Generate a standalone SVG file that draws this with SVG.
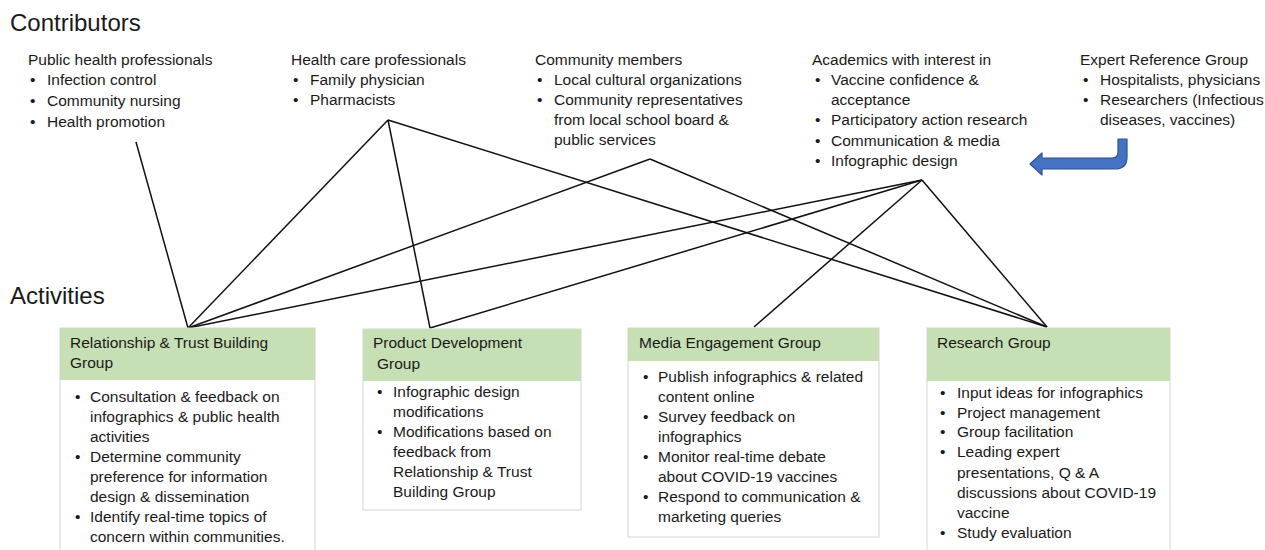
<svg xmlns="http://www.w3.org/2000/svg" width="1265" height="550" viewBox="0 0 1265 550">
  <style>
    text { font-family: "Liberation Sans", Arial, sans-serif; fill: #1a1a1a; }
    .title { font-size: 24px; }
    .t { font-size: 15.5px; }
    .hdr { fill: #C6DFB5; }
    .body { fill: #ffffff; stroke: #d4d4d4; stroke-width: 1; }
    .link { stroke: #111; stroke-width: 1.5; fill: none; }
  </style>

  <rect width="1265" height="550" fill="#ffffff"/>

  <text class="title" x="10" y="31">Contributors</text>
  <text class="title" x="10" y="304">Activities</text>

  <!-- connectors: contributor groups to activity groups -->
  <g id="connectors">
    <line class="link" x1="136" y1="142" x2="188" y2="328"/>
    <line class="link" x1="388" y1="120" x2="188" y2="328"/>
    <line class="link" x1="388" y1="120" x2="430" y2="328"/>
    <line class="link" x1="388" y1="120" x2="1047" y2="327"/>
    <line class="link" x1="650" y1="159" x2="188" y2="328"/>
    <line class="link" x1="650" y1="159" x2="1047" y2="327"/>
    <line class="link" x1="922" y1="180" x2="188" y2="328"/>
    <line class="link" x1="922" y1="180" x2="430" y2="328"/>
    <line class="link" x1="922" y1="180" x2="754" y2="327"/>
    <line class="link" x1="922" y1="180" x2="1047" y2="327"/>
  </g>

  <!-- contributors -->
  <g id="public-health">
    <text class="t" x="28" y="65">Public health professionals</text>
    <text class="t" x="30" y="85">•</text><text class="t" x="47" y="85">Infection control</text>
    <text class="t" x="30" y="106">•</text><text class="t" x="47" y="106">Community nursing</text>
    <text class="t" x="30" y="127">•</text><text class="t" x="47" y="127">Health promotion</text>
  </g>

  <g id="health-care">
    <text class="t" x="291" y="65">Health care professionals</text>
    <text class="t" x="293" y="85">•</text><text class="t" x="310" y="85">Family physician</text>
    <text class="t" x="293" y="105">•</text><text class="t" x="310" y="105">Pharmacists</text>
  </g>

  <g id="community">
    <text class="t" x="535" y="65">Community members</text>
    <text class="t" x="537" y="85">•</text><text class="t" x="554" y="85">Local cultural organizations</text>
    <text class="t" x="537" y="105">•</text><text class="t" x="554" y="105">Community representatives</text>
    <text class="t" x="554" y="125">from local school board &amp;</text>
    <text class="t" x="554" y="145">public services</text>
  </g>

  <g id="academics">
    <text class="t" x="812" y="65">Academics with interest in</text>
    <text class="t" x="815" y="85">•</text><text class="t" x="831" y="85">Vaccine confidence &amp;</text>
    <text class="t" x="831" y="105">acceptance</text>
    <text class="t" x="815" y="125">•</text><text class="t" x="831" y="125">Participatory action research</text>
    <text class="t" x="815" y="146">•</text><text class="t" x="831" y="146">Communication &amp; media</text>
    <text class="t" x="815" y="166">•</text><text class="t" x="831" y="166">Infographic design</text>
  </g>

  <g id="expert-reference">
    <text class="t" x="1080" y="65">Expert Reference Group</text>
    <text class="t" x="1083" y="85">•</text><text class="t" x="1100" y="85">Hospitalists, physicians</text>
    <text class="t" x="1083" y="105">•</text><text class="t" x="1100" y="105">Researchers (Infectious</text>
    <text class="t" x="1100" y="125">diseases, vaccines)</text>
    <!-- bent arrow feeding the academics group -->
    <path d="M1118,139 L1127,139 L1127,157 Q1127,169 1115,169 L1042,169 L1042,175 L1030,164 L1042,153 L1042,158 L1112,158 Q1118,158 1118,152 Z"
          fill="#4472C4" stroke="#2F528F" stroke-width="1.2" stroke-linejoin="round"/>
  </g>

  <!-- activities -->
  <g id="relationship-trust">
    <rect class="body" x="60" y="328" width="255" height="240"/>
    <rect class="hdr" x="60" y="328" width="255" height="52"/>
    <text class="t" x="70" y="348">Relationship &amp; Trust Building</text>
    <text class="t" x="70" y="368">Group</text>
    <text class="t" x="75" y="402">•</text><text class="t" x="90" y="402">Consultation &amp; feedback on</text>
    <text class="t" x="90" y="422">infographics &amp; public health</text>
    <text class="t" x="90" y="442">activities</text>
    <text class="t" x="75" y="462">•</text><text class="t" x="90" y="462">Determine community</text>
    <text class="t" x="90" y="482">preference for information</text>
    <text class="t" x="90" y="502">design &amp; dissemination</text>
    <text class="t" x="75" y="522">•</text><text class="t" x="90" y="522">Identify real-time topics of</text>
    <text class="t" x="90" y="542">concern within communities.</text>
  </g>

  <g id="product-development">
    <rect class="body" x="363" y="329" width="218" height="181"/>
    <rect class="hdr" x="363" y="329" width="218" height="52"/>
    <text class="t" x="373" y="348">Product Development</text>
    <text class="t" x="377" y="369">Group</text>
    <text class="t" x="377" y="397">•</text><text class="t" x="393" y="397">Infographic design</text>
    <text class="t" x="393" y="417">modifications</text>
    <text class="t" x="377" y="437">•</text><text class="t" x="393" y="437">Modifications based on</text>
    <text class="t" x="393" y="457">feedback from</text>
    <text class="t" x="393" y="477">Relationship &amp; Trust</text>
    <text class="t" x="393" y="497">Building Group</text>
  </g>

  <g id="media-engagement">
    <rect class="body" x="628" y="328" width="251" height="209"/>
    <rect class="hdr" x="628" y="328" width="251" height="33"/>
    <text class="t" x="639" y="348">Media Engagement Group</text>
    <text class="t" x="643" y="382">•</text><text class="t" x="658" y="382">Publish infographics &amp; related</text>
    <text class="t" x="658" y="402">content online</text>
    <text class="t" x="643" y="422">•</text><text class="t" x="658" y="422">Survey feedback on</text>
    <text class="t" x="658" y="442">infographics</text>
    <text class="t" x="643" y="462">•</text><text class="t" x="658" y="462">Monitor real-time debate</text>
    <text class="t" x="658" y="482">about COVID-19 vaccines</text>
    <text class="t" x="643" y="502">•</text><text class="t" x="658" y="502">Respond to communication &amp;</text>
    <text class="t" x="658" y="522">marketing queries</text>
  </g>

  <g id="research">
    <rect class="body" x="927" y="328" width="243" height="240"/>
    <rect class="hdr" x="927" y="328" width="243" height="53"/>
    <text class="t" x="937" y="348">Research Group</text>
    <text class="t" x="940" y="398">•</text><text class="t" x="957" y="398">Input ideas for infographics</text>
    <text class="t" x="940" y="418">•</text><text class="t" x="957" y="418">Project management</text>
    <text class="t" x="940" y="437">•</text><text class="t" x="957" y="437">Group facilitation</text>
    <text class="t" x="940" y="457">•</text><text class="t" x="957" y="457">Leading expert</text>
    <text class="t" x="957" y="478">presentations, Q &amp; A</text>
    <text class="t" x="957" y="498">discussions about COVID-19</text>
    <text class="t" x="957" y="518">vaccine</text>
    <text class="t" x="940" y="538">•</text><text class="t" x="957" y="538">Study evaluation</text>
  </g>
</svg>
